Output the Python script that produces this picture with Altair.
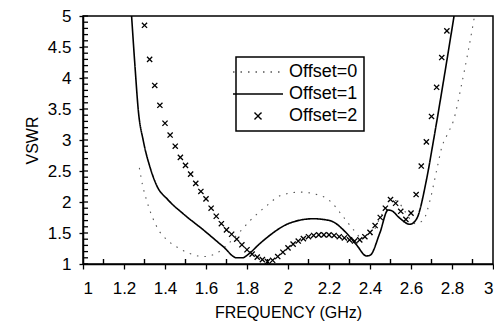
import altair as alt
import pandas as pd

# Offset=0 (dotted)
freq0 = [1.275, 1.29, 1.31, 1.36, 1.42, 1.46, 1.52, 1.59, 1.65, 1.70, 1.76, 1.815, 1.90, 1.96,
         2.06, 2.13, 2.20, 2.27, 2.32, 2.36, 2.40, 2.45, 2.50, 2.53, 2.57, 2.62, 2.66, 2.693,
         2.725, 2.75, 2.782, 2.806, 2.847, 2.88, 2.91]
vswr0 = [2.55, 2.28, 2.03, 1.60, 1.36, 1.27, 1.17, 1.12, 1.17, 1.30, 1.50, 1.70, 1.95, 2.10,
         2.16, 2.13, 2.03, 1.76, 1.55, 1.42, 1.45, 1.75, 2.03, 2.02, 1.85, 1.65, 1.71, 2.03,
         2.51, 2.88, 3.12, 3.30, 3.90, 4.45, 5.0]

# Offset=1 (solid)
freq1 = [1.237, 1.254, 1.27, 1.294, 1.327, 1.359, 1.416, 1.489, 1.587, 1.684, 1.75, 1.78, 1.80,
         1.863, 1.895, 2.009, 2.123, 2.204, 2.285, 2.334, 2.383, 2.40, 2.448, 2.488, 2.505,
         2.545, 2.594, 2.626, 2.675, 2.707, 2.756, 2.81]
vswr1 = [5.0, 4.17, 3.47, 2.99, 2.56, 2.27, 2.03, 1.81, 1.55, 1.28, 1.10, 1.10, 1.14,
         1.33, 1.42, 1.66, 1.73, 1.70, 1.50, 1.31, 1.13, 1.14, 1.50, 1.87, 1.86,
         1.74, 1.64, 1.72, 2.35, 2.94, 3.90, 5.0]

# Offset=2 (crosses)
freq2 = [1.300, 1.325, 1.350, 1.375, 1.400, 1.425, 1.450, 1.475, 1.500, 1.525, 1.550, 1.575,
         1.600, 1.625, 1.650, 1.675, 1.700, 1.725, 1.750, 1.775, 1.800, 1.825, 1.850, 1.875,
         1.900, 1.925, 1.950, 1.975, 2.000, 2.025, 2.050, 2.075, 2.100, 2.125, 2.150, 2.175,
         2.200, 2.225, 2.250, 2.275, 2.300, 2.325, 2.350, 2.375, 2.400, 2.425, 2.450, 2.475,
         2.500, 2.525, 2.550, 2.575, 2.600, 2.625, 2.650, 2.675, 2.700, 2.725, 2.750, 2.775]
vswr2 = [4.85, 4.30, 3.88, 3.56, 3.27, 3.08, 2.90, 2.72, 2.59, 2.45, 2.30, 2.17,
         2.05, 1.90, 1.77, 1.65, 1.55, 1.48, 1.40, 1.31, 1.23, 1.16, 1.11, 1.07,
         1.04, 1.06, 1.12, 1.19, 1.26, 1.32, 1.37, 1.41, 1.44, 1.46, 1.47, 1.47,
         1.47, 1.46, 1.44, 1.42, 1.39, 1.37, 1.39, 1.44, 1.51, 1.62, 1.75, 1.90,
         2.04, 1.98, 1.85, 1.72, 1.82, 2.12, 2.58, 2.97, 3.38, 3.85, 4.33, 4.76]

series = ["Offset=0", "Offset=1", "Offset=2"]
x_major = [1, 1.2, 1.4, 1.6, 1.8, 2, 2.2, 2.4, 2.6, 2.8, 3]
x_minor = [1.1, 1.3, 1.5, 1.7, 1.9, 2.1, 2.3, 2.5, 2.7, 2.9]
y_major = [1, 1.5, 2, 2.5, 3, 3.5, 4, 4.5, 5]
y_minor = [1.0, 1.1, 1.2, 1.3, 1.4, 1.5, 1.6, 1.7, 1.8, 1.9, 2.0, 2.1, 2.2, 2.3, 2.4, 2.5,
           2.6, 2.7, 2.8, 2.9, 3.0, 3.1, 3.2, 3.3, 3.4, 3.5, 3.6, 3.7, 3.8, 3.9, 4.0, 4.1,
           4.2, 4.3, 4.4, 4.5, 4.6, 4.7, 4.8, 4.9, 5.0]

FONT = "Liberation Sans"
LINE_SYM = "M-5,0L5,0"
X_SYM = "M-0.7,-0.7L0.7,0.7M-0.7,0.7L0.7,-0.7"
W, H = 410, 248
# minor tick lengths expressed in data units (about 5 px each)
X_TICK_LEN = 5 * 2.0 / W
Y_TICK_LEN = 5 * 4.0 / H

df0 = pd.DataFrame({"f": freq0, "v": vswr0, "s": series[0]})
df1 = pd.DataFrame({"f": freq1, "v": vswr1, "s": series[1]})
df2 = pd.DataFrame({"f": freq2, "v": vswr2, "s": series[2]})
dfxm = pd.DataFrame({"f": x_minor, "v": [1.0] * len(x_minor), "v2": [1.0 + Y_TICK_LEN] * len(x_minor)})
dfym = pd.DataFrame({"v": y_minor, "f": [1.0] * len(y_minor), "f2": [1.0 + X_TICK_LEN] * len(y_minor)})

xscale = alt.Scale(domain=[1, 3], nice=False, zero=False)
yscale = alt.Scale(domain=[1, 5], nice=False, zero=False)

legend = alt.Legend(
    title=None, orient="none", legendX=153, legendY=41,
    labelFont=FONT, labelFontSize=18, labelColor="black",
    symbolSize=100, symbolStrokeWidth=1.4, symbolOffset=7, labelOffset=22,
    rowPadding=4, padding=6, strokeColor="black", fillColor="white",
)
color = alt.Color("s:N", scale=alt.Scale(domain=series, range=["#555555", "black", "black"]), legend=legend)
dash = alt.StrokeDash("s:N", scale=alt.Scale(domain=series, range=[[1.5, 6], [1, 0], [1, 0]]), legend=legend)
shape = alt.Shape("s:N", scale=alt.Scale(domain=series, range=[LINE_SYM, LINE_SYM, X_SYM]), legend=legend)

x_axis = alt.Axis(values=x_major, format="~g", tickSize=5, labelPadding=11, title="FREQUENCY  (GHz)",
                  titlePadding=8, orient="bottom")
y_axis = alt.Axis(values=y_major, format="~g", tickSize=4, labelPadding=8, title="VSWR",
                  titlePadding=7, orient="left")
x_f = alt.X("f:Q", scale=xscale, axis=x_axis)
y_v = alt.Y("v:Q", scale=yscale, axis=y_axis)

# minor tick marks along the inner side of the bottom and left axes
xminor_ticks = alt.Chart(dfxm).mark_rule(strokeWidth=1.4, color="black", opacity=1).encode(
    x=x_f, y=y_v, y2="v2:Q")
yminor_ticks = alt.Chart(dfym).mark_rule(strokeWidth=1.3, color="black", opacity=1).encode(
    y=y_v, x=x_f, x2="f2:Q")

line0 = alt.Chart(df0).mark_line(strokeWidth=1.1, interpolate="monotone", clip=True).encode(
    x=x_f, y=y_v, color=color, strokeDash=dash)

line1 = alt.Chart(df1).mark_line(strokeWidth=1.6, interpolate="monotone", clip=True).encode(
    x=x_f, y=y_v, color=color, strokeDash=dash)

pts2 = alt.Chart(df2).mark_point(filled=False, size=55, strokeWidth=1.3, opacity=1, clip=True).encode(
    x=x_f, y=y_v, color=color, shape=shape)

chart = alt.layer(line0, line1, pts2, xminor_ticks, yminor_ticks).properties(
    width=W, height=H,
    autosize=alt.AutoSizeParams(type="none"),
    padding={"left": 75, "top": 8, "right": 1, "bottom": 60},
).configure_view(stroke="black", strokeWidth=1.5).configure_axis(
    grid=False, domainColor="black", domainWidth=1.5, tickColor="black", tickWidth=1.3,
    labelFont=FONT, labelFontSize=17, labelColor="black",
    titleFont=FONT, titleFontSize=16, titleFontWeight="normal", titleColor="black",
).configure_legend(cornerRadius=0, strokeWidth=1.5)

chart.save("out.html", embed_options={"renderer": "svg", "actions": False})
